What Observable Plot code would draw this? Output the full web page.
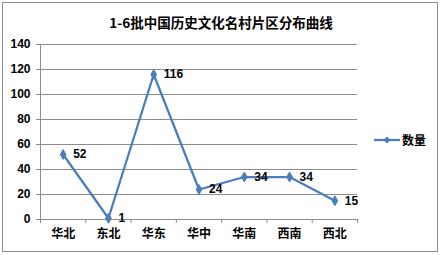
<!DOCTYPE html>
<html>
<head>
<meta charset="utf-8">
<script src="https://cdn.jsdelivr.net/npm/d3@7"></script>
<script src="https://cdn.jsdelivr.net/npm/@observablehq/plot@0.6"></script>
<style>
  body { margin: 0; background: #fff; }
  #wrap { position: relative; width: 442px; height: 255px; overflow: hidden; }
  #border { position: absolute; left: 2px; top: 2px; width: 434px; height: 248px; border: 1px solid #8c8c8c; pointer-events: none; }
  #title { position: absolute; left: 0; width: 442px; top: 12px; text-align: center;
    font: bold 13.5px "Noto Sans CJK SC", "Liberation Sans", sans-serif; color: #000; }
  #legend { position: absolute; left: 374px; top: 131px; display: flex; align-items: center;
    font: bold 12px "Noto Sans CJK SC", sans-serif; color: #000; }
  svg text { font-family: "Liberation Sans", "Noto Sans CJK SC", sans-serif; }
</style>
</head>
<body>
<div id="wrap">
  <div id="chart"></div>
  <div id="title"></div>
  <div id="legend"></div>
  <div id="border"></div>
</div>
<script>
const title = "1-6批中国历史文化名村片区分布曲线";
const categories = ["华北", "东北", "华东", "华中", "华南", "西南", "西北"];
const values = [52, 1, 116, 24, 34, 34, 15];
const seriesName = "数量";
const yTicks = [0, 20, 40, 60, 80, 100, 120, 140];

const lineColor = "#4A7EBB";
const data = categories.map((c, i) => ({i, category: c, value: values[i]}));
const boundaries = d3.range(categories.length + 1).map(i => i - 0.5);

const chart = Plot.plot({
  width: 442,
  height: 255,
  marginLeft: 40,
  marginRight: 85,
  marginTop: 44,
  marginBottom: 36,
  style: {background: "transparent", overflow: "visible"},
  x: {domain: [-0.5, categories.length - 0.5], axis: null, label: null},
  y: {domain: [0, 140], axis: null, label: null},
  marks: [
    Plot.gridY(yTicks, {stroke: "#8c8c8c", strokeOpacity: 1, strokeWidth: 1}),
    Plot.ruleX([-0.5], {stroke: "#8c8c8c"}),
    Plot.ruleY([0], {stroke: "#8c8c8c"}),
    Plot.axisY({ticks: yTicks, tickSize: 4, tickPadding: 6, stroke: "#8c8c8c", label: null,
      fontSize: 12, fontWeight: "bold", fill: "#000"}),
    Plot.axisX({ticks: boundaries, tickSize: 4, tickFormat: () => "", stroke: "#8c8c8c", label: null}),
    Plot.axisX({ticks: d3.range(categories.length), tickSize: 0, tickPadding: 10, label: null,
      tickFormat: i => categories[i], fontSize: 12, fontWeight: "bold", fill: "#000",
      fontFamily: "Noto Sans CJK SC"}),
    Plot.line(data, {x: "i", y: "value", stroke: lineColor, strokeWidth: 2.25}),
    Plot.dot(data, {x: "i", y: "value", symbol: "diamond", r: 3, fill: lineColor, stroke: lineColor, strokeWidth: 1}),
    Plot.text(data, {x: "i", y: "value", text: d => String(d.value), dx: 10, textAnchor: "start",
      fontSize: 12, fontWeight: "bold", fill: "#000"})
  ]
});
document.getElementById("chart").appendChild(chart);
document.getElementById("title").textContent = title;
document.getElementById("legend").innerHTML =
  `<svg width="27" height="10" style="margin-right:1px"><line x1="0" y1="5" x2="26" y2="5" stroke="${lineColor}" stroke-width="2.25"/><path d="M13,1.5 L16.5,5 L13,8.5 L9.5,5 Z" fill="${lineColor}"/></svg><span>${seriesName}</span>`;
</script>
</body>
</html>
